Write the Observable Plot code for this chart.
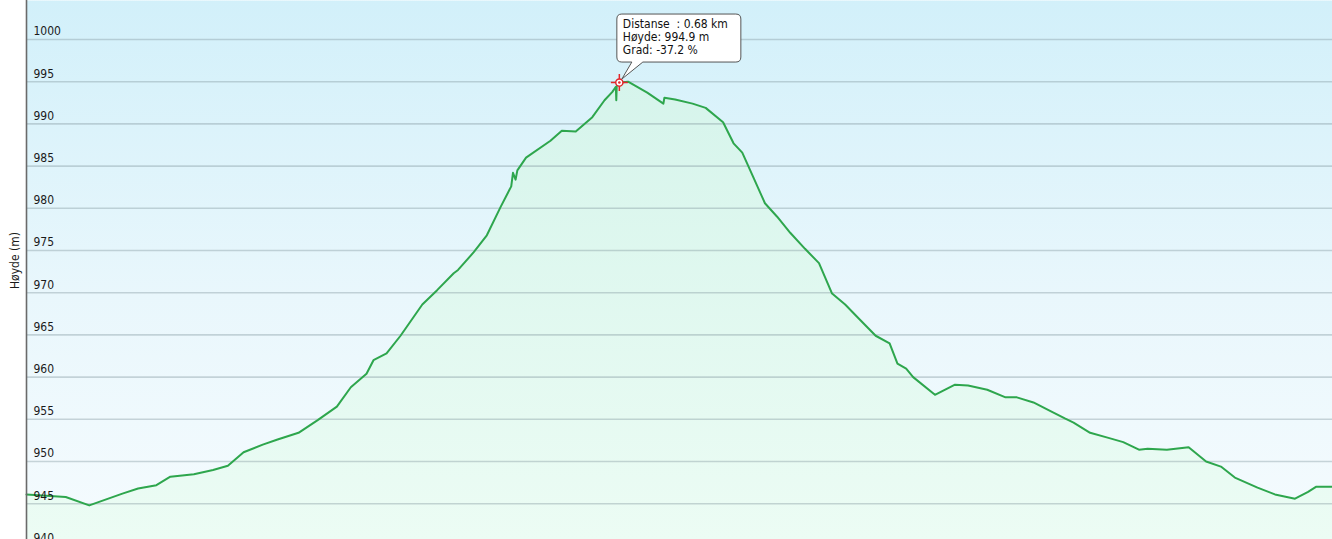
<!DOCTYPE html>
<html><head><meta charset="utf-8">
<script src="https://cdn.jsdelivr.net/npm/d3@7"></script>
<script src="https://cdn.jsdelivr.net/npm/@observablehq/plot@0.6"></script>
<style>body{margin:0;background:#fff;overflow:hidden}</style>
</head><body><div id="chart"></div>
<script>
const distanceKm = [0, 0.045, 0.072, 0.110, 0.128, 0.149, 0.165, 0.192, 0.214, 0.231, 0.249, 0.271, 0.288, 0.312, 0.334, 0.356, 0.372, 0.390, 0.398, 0.413, 0.429, 0.454, 0.471, 0.490, 0.495, 0.513, 0.528, 0.544, 0.556, 0.558, 0.561, 0.563, 0.573, 0.601, 0.614, 0.630, 0.649, 0.663, 0.672, 0.676, 0.6765, 0.677, 0.680, 0.690, 0.712, 0.7305, 0.7317, 0.744, 0.764, 0.779, 0.799, 0.811, 0.821, 0.834, 0.847, 0.861, 0.876, 0.893, 0.909, 0.924, 0.939, 0.956, 0.974, 0.990, 0.999, 1.009, 1.017, 1.042, 1.065, 1.080, 1.102, 1.123, 1.136, 1.155, 1.174, 1.191, 1.201, 1.220, 1.241, 1.258, 1.276, 1.286, 1.308, 1.333, 1.353, 1.370, 1.386, 1.412, 1.432, 1.455, 1.470, 1.479, 1.498];
const elevationM = [946.1, 945.8, 944.8, 946.2, 946.8, 947.2, 948.2, 948.5, 949.0, 949.5, 951.1, 952.0, 952.6, 953.4, 954.9, 956.5, 958.8, 960.4, 962.0, 962.8, 964.9, 968.6, 970.3, 972.3, 972.7, 974.8, 976.8, 980.2, 982.6, 984.2, 983.4, 984.5, 986.0, 988.0, 989.2, 989.1, 990.8, 992.8, 993.8, 994.4, 992.8, 994.5, 994.9, 995.0, 993.7, 992.4, 993.1, 992.9, 992.4, 991.9, 990.2, 987.7, 986.6, 983.6, 980.6, 979.0, 977.1, 975.2, 973.5, 969.9, 968.6, 966.8, 964.9, 964.0, 961.6, 961.0, 960.0, 957.9, 959.1, 959.0, 958.5, 957.6, 957.6, 957.0, 956.0, 955.1, 954.6, 953.4, 952.8, 952.3, 951.4, 951.5, 951.4, 951.7, 950.0, 949.4, 948.1, 946.9, 946.1, 945.6, 946.4, 947.0, 947.0];
const yTicks = [940, 945, 950, 955, 960, 965, 970, 975, 980, 985, 990, 995, 1000];
const yLabel = "Høyde (m)";
const tipLines = ["Distanse  : 0.68 km", "Høyde: 994.9 m", "Grad: -37.2 %"];
const peakDistance = [0.68];
const peakElevation = [994.9];

const data = distanceKm.map((d, i) => ({d, h: elevationM[i]}));
const peak = peakDistance.map((d, i) => ({d, h: peakElevation[i]}));
const font = "'DejaVu Sans Condensed','DejaVu Sans',sans-serif";

const defs = () => {
  const s = d3.create("svg:defs");
  const bg = s.append("linearGradient").attr("id", "bgGrad").attr("x1", 0).attr("y1", 0).attr("x2", 0).attr("y2", 1);
  bg.append("stop").attr("offset", "0%").attr("stop-color", "#d2f0fa");
  bg.append("stop").attr("offset", "55%").attr("stop-color", "#e9f7fc");
  bg.append("stop").attr("offset", "100%").attr("stop-color", "#f5fbfe");
  const ar = s.append("linearGradient").attr("id", "areaGrad").attr("gradientUnits", "userSpaceOnUse").attr("x1", 0).attr("y1", 0).attr("x2", 0).attr("y2", 539);
  ar.append("stop").attr("offset", "0%").attr("stop-color", "#d2f3ea");
  ar.append("stop").attr("offset", "100%").attr("stop-color", "#ecfcf4");
  return s.node();
};

const plot = Plot.plot({
  width: 1332, height: 539,
  marginLeft: 26, marginRight: 0, marginTop: 0, marginBottom: 0,
  style: {fontFamily: font, fontSize: "12px", background: "#fff", overflow: "hidden"},
  x: {domain: [0, 1.498], axis: null},
  y: {domain: [940.76, 1004.62], axis: null},
  marks: [
    defs,
    Plot.frame({fill: "url(#bgGrad)", stroke: null}),
    Plot.areaY(data, {x: "d", y1: () => 930, y2: "h", fill: "url(#areaGrad)", clip: true}),
    Plot.ruleY(yTicks, {stroke: "#7f929a", strokeOpacity: 0.38, strokeWidth: 1.6}),
    Plot.lineY(data, {x: "d", y: "h", stroke: "#2ea64d", strokeWidth: 2}),
    Plot.ruleX([0], {stroke: "#6a6a6a", strokeWidth: 1.6}),
    Plot.text(yTicks, {frameAnchor: "left", y: d => d, text: d => String(d), textAnchor: "start", dx: 7, dy: -8, fill: "#1a1a1a"}),
    Plot.text([yLabel], {frameAnchor: "left", text: d => d, rotate: -90, dx: -11, dy: 19, fill: "#1a1a1a"}),
    Plot.dot(peak, {x: "d", y: "h", symbol: "plus", r: 5.5, stroke: "#e3262b", strokeWidth: 1.5}),
    Plot.dot(peak, {x: "d", y: "h", r: 3.6, stroke: "#e3262b", fill: "#ffffff", strokeWidth: 1.5}),
    Plot.dot(peak, {x: "d", y: "h", r: 1.3, fill: "#e3262b"})
  ]
});

// tooltip callout positioned from the library's own scales
const sx = plot.scale("x"), sy = plot.scale("y");
const svg = d3.select(plot.tagName.toLowerCase() === "svg" ? plot : plot.querySelector("svg"));
peak.forEach(p => {
  const px = sx.apply(p.d), py = sy.apply(p.h);
  const L = px - 2, R = px + 122, T = py - 68, B = py - 20, r = 5;
  const g = svg.append("g").attr("text-anchor", "start");
  const path = `M${L + r},${T}H${R - r}Q${R},${T} ${R},${T + r}V${B - r}Q${R},${B} ${R - r},${B}` +
    `H${px + 24}L${px + 3},${py - 3}L${px + 13},${B}H${L + r}Q${L},${B} ${L},${B - r}V${T + r}Q${L},${T} ${L + r},${T}Z`;
  g.append("path").attr("d", path).attr("fill", "#ffffff").attr("stroke", "#555").attr("stroke-width", 1);
  tipLines.forEach((t, i) => {
    g.append("text").attr("x", px + 4).attr("y", T + 14 + i * 13).attr("fill", "#111")
      .attr("text-anchor", "start").attr("font-family", font).attr("font-size", 12)
      .attr("xml:space", "preserve").style("white-space", "pre").text(t);
  });
});

document.getElementById("chart").appendChild(plot);
</script>
</body></html>
